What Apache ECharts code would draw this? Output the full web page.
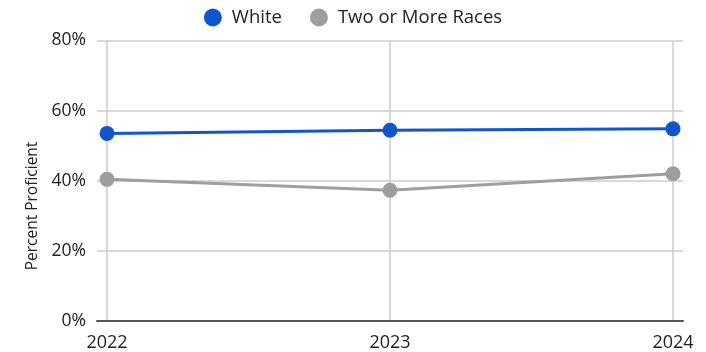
<!DOCTYPE html>
<html>
<head>
<meta charset="utf-8">
<script src="https://cdn.jsdelivr.net/npm/echarts@6/dist/echarts.min.js"></script>
<style>
  html, body { margin: 0; padding: 0; background: #fff; }
  #chart { width: 706px; height: 352px; }
</style>
</head>
<body>
<div id="chart"></div>
<script>
// Proficiency by student group, 2022–2024
const years = ['2022', '2023', '2024'];
const white = [53.5, 54.4, 54.8];
const twoOrMore = [40.4, 37.3, 42.0];
const yTicks = [0, 20, 40, 60, 80];

const FONT = '"Open Sans", "Liberation Sans", sans-serif';
const TOP = 40.5, BOTTOM = 31;

const chart = echarts.init(document.getElementById('chart'));
chart.setOption({
  animation: false,
  textStyle: { fontFamily: FONT },
  legend: {
    top: 3,
    left: 'center',
    icon: 'circle',
    itemWidth: 18,
    itemHeight: 18,
    itemGap: 28,
    textStyle: { fontSize: 18.5, color: '#222', fontFamily: FONT, padding: [0, 0, 0, 5] },
    data: ['White', 'Two or More Races']
  },
  graphic: [{
    type: 'text',
    x: 33, y: 206,
    rotation: Math.PI / 2,
    style: {
      text: 'Percent Proficient',
      fontSize: 15.5, fill: '#222', fontFamily: FONT,
      align: 'center', verticalAlign: 'middle'
    }
  }],
  grid: [
    // outer grid carries the horizontal gridlines and the value labels
    { left: 97, right: 23, top: TOP, bottom: BOTTOM },
    // inner grid carries the year axis and the lines
    { left: 107, right: 33, top: TOP, bottom: BOTTOM }
  ],
  xAxis: [
    {
      gridIndex: 0, type: 'value', min: 0, max: 1,
      axisLine: { show: true, lineStyle: { color: '#555', width: 2 } },
      axisTick: { show: false }, axisLabel: { show: false }, splitLine: { show: false }
    },
    {
      gridIndex: 1, type: 'category', data: years, boundaryGap: false,
      axisLine: { show: false }, axisTick: { show: false },
      axisLabel: { fontSize: 18, color: '#222', margin: 13, fontFamily: FONT },
      splitLine: { show: true, lineStyle: { color: '#cccccc', width: 1.5 } }
    }
  ],
  yAxis: [
    {
      gridIndex: 0, type: 'value', min: yTicks[0], max: yTicks[yTicks.length - 1], interval: 20,
      axisLine: { show: false }, axisTick: { show: false },
      axisLabel: { fontSize: 17.5, color: '#222', margin: 11, formatter: v => v + '%', fontFamily: FONT },
      splitLine: { show: true, lineStyle: { color: '#cccccc', width: 1.5 } }
    },
    {
      gridIndex: 1, type: 'value', min: yTicks[0], max: yTicks[yTicks.length - 1],
      show: false, splitLine: { show: false }
    }
  ],
  series: [
    {
      name: 'White', type: 'line', xAxisIndex: 1, yAxisIndex: 1, data: white,
      color: '#1155cc', symbol: 'circle', symbolSize: 15,
      lineStyle: { width: 3 }
    },
    {
      name: 'Two or More Races', type: 'line', xAxisIndex: 1, yAxisIndex: 1, data: twoOrMore,
      color: '#9e9e9e', symbol: 'circle', symbolSize: 15,
      lineStyle: { width: 3 }
    }
  ]
});
</script>
</body>
</html>
